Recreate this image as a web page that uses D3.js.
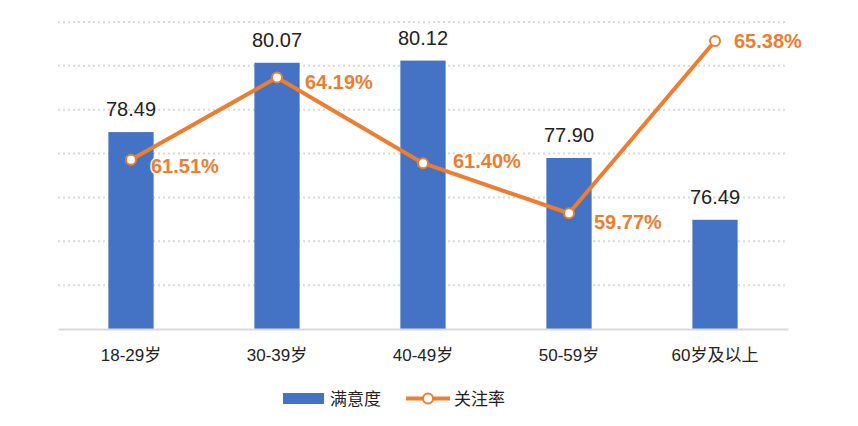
<!DOCTYPE html>
<html><head><meta charset="utf-8">
<script src="https://cdn.jsdelivr.net/npm/d3@7"></script>
<style>
body{margin:0;background:#fff;}
svg{display:block;font-family:"Liberation Sans",Arial,"Noto Sans CJK SC",sans-serif;}
</style></head>
<body>
<svg id="chart" width="858" height="426"></svg>
<script>
const categories = ["18-29岁","30-39岁","40-49岁","50-59岁","60岁及以上"];
const satisfaction = [78.49, 80.07, 80.12, 77.90, 76.49];
const attention = [61.51, 64.19, 61.40, 59.77, 65.38];
const leftTicks = [74,75,76,77,78,79,80,81];
const seriesNames = ["满意度","关注率"];
// label nudges for the percent labels (dx, dy from the point), as placed in the original
const pctLabelNudge = [[20, 6], [28, 4], [30, -2], [25, 9], [19, 0]];

(function(){
const svg = d3.select("#chart");
const pLeft = 58, pRight = 788, pTop = 22, pBottom = 329;
const barColor = "#4472C4", lineColor = "#ED7D31";

const x = d3.scaleBand().domain(categories).range([pLeft, pRight]).paddingInner(0.69).paddingOuter(0.345);
const y = d3.scaleLinear().domain([74, 81]).range([pBottom, pTop]);
const y2 = d3.scaleLinear().domain([56, 66]).range([pBottom, pTop]);
const cx = c => x(c) + x.bandwidth()/2;

// gridlines
svg.append("g").selectAll("line").data(leftTicks.filter(t => t > 74)).join("line")
  .attr("x1", pLeft).attr("x2", pRight)
  .attr("y1", d => y(d)).attr("y2", d => y(d))
  .attr("stroke", "#d9d9d9").attr("stroke-width", 2).attr("stroke-dasharray", "2,3");

// bars
svg.append("g").selectAll("rect").data(satisfaction).join("rect")
  .attr("x", (d,i) => x(categories[i]))
  .attr("width", x.bandwidth())
  .attr("y", d => y(d))
  .attr("height", d => pBottom - y(d))
  .attr("fill", barColor);

// baseline axis
const xAxis = d3.axisBottom(x).tickSize(0).tickPadding(20);
const gx = svg.append("g").attr("transform", `translate(0,${pBottom})`).call(xAxis);
gx.select(".domain").attr("stroke", "#d9d9d9").attr("stroke-width", 2);
gx.selectAll("text").attr("font-size", 17).attr("fill", "#222")
  .attr("font-family", '"Liberation Sans",Arial,"Noto Sans CJK SC",sans-serif');

// bar labels
svg.append("g").selectAll("text").data(satisfaction).join("text")
  .attr("x", (d,i) => cx(categories[i]))
  .attr("y", d => y(d) - 16)
  .attr("text-anchor", "middle")
  .attr("font-size", 20).attr("fill", "#222")
  .text(d => d.toFixed(2));

// line
const line = d3.line().x((d,i) => cx(categories[i])).y(d => y2(d));
svg.append("path").datum(attention).attr("d", line)
  .attr("fill", "none").attr("stroke", lineColor).attr("stroke-width", 4).attr("stroke-linejoin", "round");
svg.append("g").selectAll("circle").data(attention).join("circle")
  .attr("cx", (d,i) => cx(categories[i])).attr("cy", d => y2(d)).attr("r", 5)
  .attr("fill", "#fff").attr("stroke", lineColor).attr("stroke-width", 2);
svg.append("g").selectAll("text").data(attention).join("text")
  .attr("x", (d,i) => cx(categories[i]) + pctLabelNudge[i][0])
  .attr("y", (d,i) => y2(d) + pctLabelNudge[i][1])
  .attr("dy", "0.35em")
  .attr("font-size", 20).attr("font-weight", "bold").attr("fill", lineColor)
  .attr("stroke", "#fff").attr("stroke-width", 3).attr("paint-order", "stroke")
  .text(d => d.toFixed(2) + "%");

// legend
const lg = svg.append("g");
lg.append("rect").attr("x", 283).attr("y", 393).attr("width", 41).attr("height", 11).attr("fill", barColor);
lg.append("text").attr("x", 330).attr("y", 404.5).attr("font-size", 17).attr("fill", "#222").text(seriesNames[0]);
lg.append("line").attr("x1", 406).attr("x2", 450).attr("y1", 398.5).attr("y2", 398.5).attr("stroke", lineColor).attr("stroke-width", 4);
lg.append("circle").attr("cx", 428).attr("cy", 398.5).attr("r", 5).attr("fill", "#fff").attr("stroke", lineColor).attr("stroke-width", 2);
lg.append("text").attr("x", 454).attr("y", 404.5).attr("font-size", 17).attr("fill", "#222").text(seriesNames[1]);
})();
</script>
</body></html>
